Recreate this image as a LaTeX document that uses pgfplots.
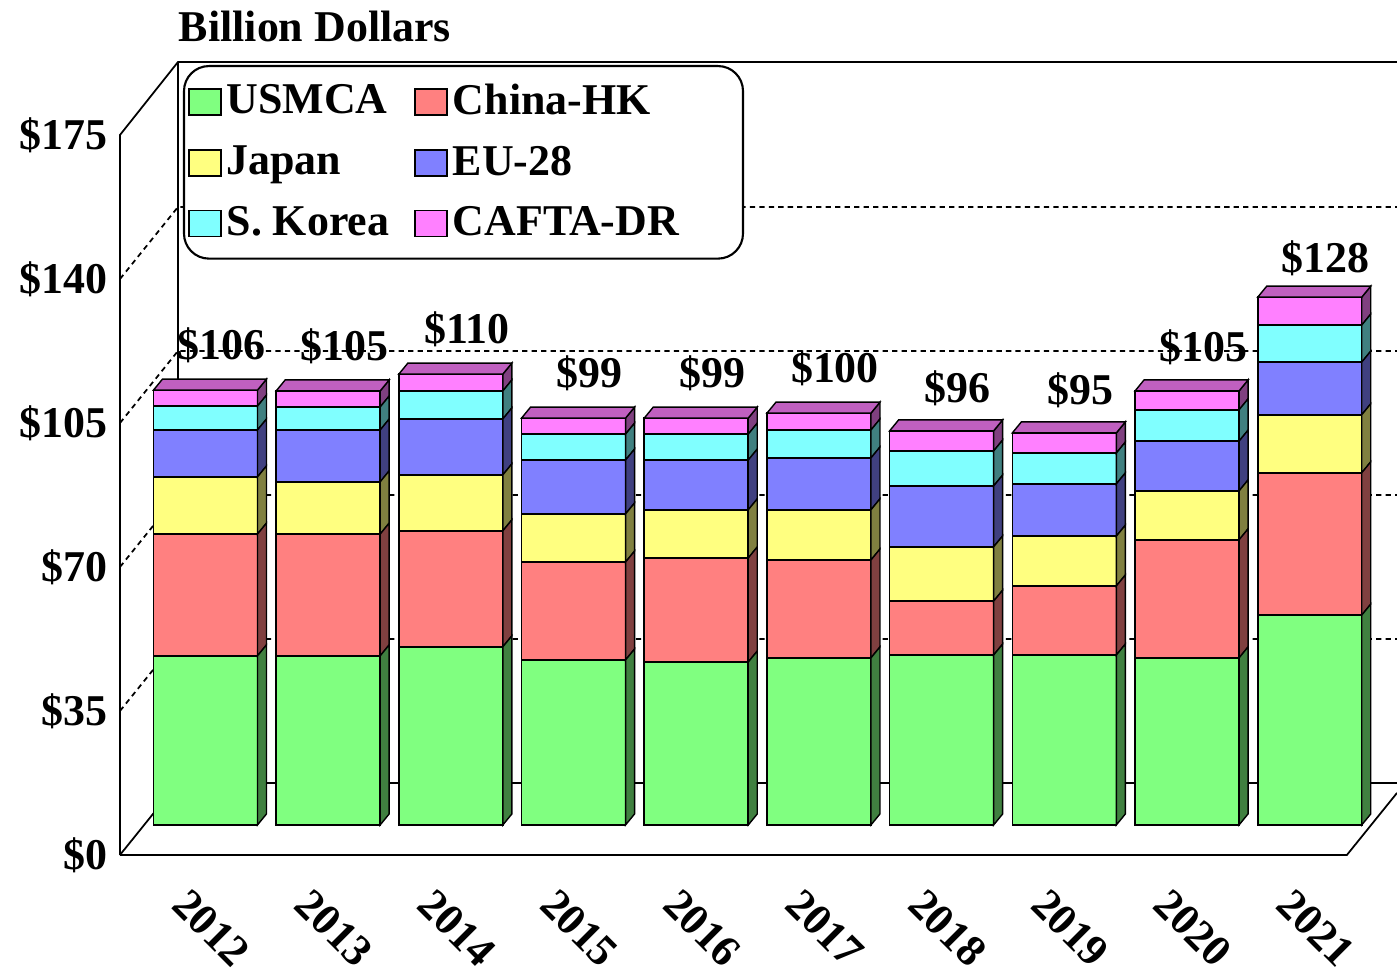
\documentclass[border=0pt]{standalone}
\usepackage{pgfplots}
\pgfplotsset{compat=1.18}
\usepackage{pgfplotstable}
\usepackage{fontspec}
\setmainfont{Liberation Serif}
\definecolor{usmca}{HTML}{80FF80}\definecolor{usmcaS}{HTML}{408040}
\definecolor{china}{HTML}{FF8080}\definecolor{chinaS}{HTML}{804040}
\definecolor{japan}{HTML}{FFFF80}\definecolor{japanS}{HTML}{808040}
\definecolor{eu}{HTML}{8080FF}\definecolor{euS}{HTML}{404080}
\definecolor{sk}{HTML}{80FFFF}\definecolor{skS}{HTML}{408080}
\definecolor{cafta}{HTML}{FF80FF}\definecolor{caftaS}{HTML}{804080}
\definecolor{caftaT}{HTML}{C060C0}
\newcommand\lf{\bfseries\fontsize{12.5}{15}\selectfont}
\pgfdeclareplotmark{side3d}{%
  \pgfmathsetlengthmacro\segh{\h*0.4114mm}%
  \pgfpathmoveto{\pgfpoint{5.2mm}{0pt}}%
  \pgfpathlineto{\pgfpoint{6.1mm}{1.1mm}}%
  \pgfpathlineto{\pgfpoint{6.1mm}{1.1mm-\segh}}%
  \pgfpathlineto{\pgfpoint{5.2mm}{-\segh}}%
  \pgfpathclose
  \pgfusepathqfillstroke}
\pgfdeclareplotmark{sidetop3d}{%
  \pgfuseplotmark{side3d}%
  \pgfsetfillcolor{caftaT}%
  \pgfpathmoveto{\pgfpoint{-5.2mm}{0pt}}%
  \pgfpathlineto{\pgfpoint{5.2mm}{0pt}}%
  \pgfpathlineto{\pgfpoint{6.1mm}{1.1mm}}%
  \pgfpathlineto{\pgfpoint{-4.3mm}{1.1mm}}%
  \pgfpathclose
  \pgfusepathqfillstroke}
\pgfplotstableread{
x USMCA China Japan EU SK CAFTA tot
0 41.1 29.6 13.9 11.4 5.8 3.9 106
1 41.1 29.6 12.7 12.6 5.6 3.9 105
2 43.3 28.2 13.6 13.6 6.8 4.1 110
3 40.1 23.8 11.7 13.1 6.3 3.9 99
4 39.6 25.3 11.7 12.1 6.3 3.9 99
5 40.6 23.8 12.2 12.6 6.8 4.1 100
6 41.3 13.1 13.2 14.8 8.5 4.9 96
7 41.3 16.8 12.1 12.7 7.5 4.9 95
8 40.6 28.7 11.9 12.1 7.6 4.6 105
9 51.0 34.6 14.1 12.8 9.0 6.8 128
}\data
\pgfplotsset{
  common/.style={x=12.27mm, y=0.4114mm, scale only axis,
    xmin=-0.6968, xmax=9.711, ymin=-7.292, ymax=185.46,
    enlargelimits=false, clip=false,
    axis line style={draw=none}, tick style={draw=none}, major tick length=0pt},
  myleg/.style={legend image code/.code={\draw[##1, sharp corners, line width=0.45pt] (0mm,-1.3mm) rectangle (3.2mm,1.3mm);}},
  sidef/.style={scatter, only marks, mark=side3d,
    scatter/@pre marker code/.code={\pgfsetfillcolor{#1}\pgfsetstrokecolor{black}\pgfsetlinewidth{0.4pt}},
    scatter/@post marker code/.code={}},
}
\begin{document}
\begin{tikzpicture}
% frame (drawn first, behind the bars)
\begin{axis}[common, hide axis]
\addplot[draw=none, forget plot] coordinates {(0,0)};
\draw[line width=0.5pt] (-0.6968,-7.292) -- (-0.6968,167.72) -- (-0.2241,185.46) -- (9.711,185.46);
\draw[line width=0.5pt] (-0.2241,185.46) -- (-0.2241,10.209);
\draw[line width=0.5pt] (-0.2241,10.209) -- (9.711,10.209);
\draw[line width=0.5pt] (-0.6968,-7.292) -- (-0.2241,10.209);
\draw[line width=0.5pt] (-0.6968,-7.292) -- (9.303,-7.292) -- (9.711,7.778);
\draw[dash pattern=on 1.5pt off 1.2pt, line width=0.5pt] (-0.6968,27.708) -- (-0.2241,45.209) -- (9.711,45.209);
\draw[dash pattern=on 1.5pt off 1.2pt, line width=0.5pt] (-0.6968,62.708) -- (-0.2241,80.209) -- (9.711,80.209);
\draw[dash pattern=on 1.5pt off 1.2pt, line width=0.5pt] (-0.6968,97.708) -- (-0.2241,115.209) -- (9.711,115.209);
\draw[dash pattern=on 1.5pt off 1.2pt, line width=0.5pt] (-0.6968,132.708) -- (-0.2241,150.209) -- (9.711,150.209);
\node[font=\lf] at (0.892,193.97) {Billion Dollars};
\coordinate (BL) at (-1.6748,-35.73);
\coordinate (TR) at (9.711,200.53);
\end{axis}
\begin{axis}[common, ybar stacked, bar width=10.4mm,
  xtick={0,...,9},
  xticklabels={2012,2013,2014,2015,2016,2017,2018,2019,2020,2021},
  xticklabel style={font=\lf, anchor=center, yshift=-7.3mm, xshift=0.6mm, rotate=-45},
  ytick={-7.292,27.708,62.708,97.708,132.708,167.708},
  yticklabels={\$0,\$35,\$70,\$105,\$140,\$175},
  yticklabel style={font=\lf},
  legend columns=2,
  legend style={at={(0.0493,0.9962)}, anchor=north west, draw=black, line width=0.6pt,
    rounded corners=2.5mm, fill=white, font=\lf, inner xsep=0.4mm, inner ysep=1mm,
    row sep=1.0mm, nodes={inner xsep=0.5mm, inner ysep=0.8mm},
    /tikz/every even column/.append style={column sep=2mm}},
  legend cell align=left,
]
\addplot[myleg, fill=usmca, draw=black, line width=0.45pt] table[x=x,y=USMCA]{\data};
\addplot[myleg, fill=china, draw=black, line width=0.45pt] table[x=x,y=China]{\data};
\addplot[myleg, fill=japan, draw=black, line width=0.45pt] table[x=x,y=Japan]{\data};
\addplot[myleg, fill=eu, draw=black, line width=0.45pt] table[x=x,y=EU]{\data};
\addplot[myleg, fill=sk, draw=black, line width=0.45pt] table[x=x,y=SK]{\data};
\addplot[myleg, fill=cafta, draw=black, line width=0.45pt,
  visualization depends on={\thisrow{tot}\as\tot},
  nodes near coords={\lf\$\pgfmathprintnumber[fixed,precision=0,assume math mode=true]{\tot}},
  every node near coord/.append style={font=\lf, anchor=center, yshift=5.3mm, xshift=1.6mm}]
  table[x=x,y=CAFTA]{\data};
\legend{USMCA, China-HK, Japan, EU-28, S. Korea, CAFTA-DR\hspace*{5.5mm}}
\end{axis}
\begin{axis}[common, stack plots=y, hide axis]
\addplot[sidef=usmcaS, visualization depends on={\thisrow{USMCA}\as\h}] table[x=x,y=USMCA]{\data};
\addplot[sidef=chinaS, visualization depends on={\thisrow{China}\as\h}] table[x=x,y=China]{\data};
\addplot[sidef=japanS, visualization depends on={\thisrow{Japan}\as\h}] table[x=x,y=Japan]{\data};
\addplot[sidef=euS, visualization depends on={\thisrow{EU}\as\h}] table[x=x,y=EU]{\data};
\addplot[sidef=skS, visualization depends on={\thisrow{SK}\as\h}] table[x=x,y=SK]{\data};
\addplot[sidef=caftaS, mark=sidetop3d, visualization depends on={\thisrow{CAFTA}\as\h}] table[x=x,y=CAFTA]{\data};
\end{axis}
\pgfresetboundingbox
\path[use as bounding box] (BL) rectangle (TR);
\end{tikzpicture}
\end{document}
